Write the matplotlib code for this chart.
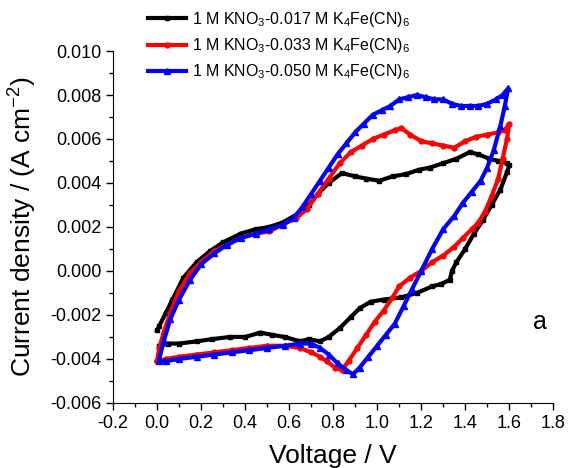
import numpy as np
import matplotlib
matplotlib.use("Agg")
import matplotlib.pyplot as plt

plt.rcParams['font.family'] = ['Liberation Sans', 'DejaVu Sans']
plt.rcParams['mathtext.fontset'] = 'custom'
plt.rcParams['mathtext.rm'] = 'Liberation Sans'
plt.rcParams['mathtext.it'] = 'Liberation Sans:italic'
plt.rcParams['mathtext.default'] = 'regular'

# 1 M KNO3 - 0.017 M K4Fe(CN)6 (black): forward scan then reverse scan
v_017 = [0.00, 0.01, 0.04, 0.07, 0.12, 0.18, 0.24, 0.30, 0.38, 0.45, 0.51, 0.57, 0.64, 0.69,
         0.73, 0.78, 0.84, 0.90, 0.95, 1.01, 1.07, 1.13, 1.19, 1.24, 1.30, 1.36, 1.42, 1.46,
         1.51, 1.55, 1.59,
         1.60, 1.59, 1.56, 1.52, 1.48, 1.44, 1.40, 1.36, 1.34, 1.33, 1.29, 1.25, 1.18, 1.11,
         1.03, 0.97, 0.92, 0.88, 0.83, 0.78, 0.74, 0.69, 0.65, 0.58, 0.52, 0.47, 0.40, 0.33,
         0.25, 0.18, 0.10, 0.05, 0.01]
j_017 = [-0.0027, -0.0025, -0.0019, -0.0013, -0.0003, 0.0004, 0.0009, 0.0013, 0.0017, 0.0019,
         0.0020, 0.0022, 0.0026, 0.0030, 0.0035, 0.0040, 0.00445, 0.0043, 0.0042, 0.0041,
         0.0043, 0.0044, 0.0046, 0.0047, 0.0049, 0.0051, 0.0054, 0.0053, 0.0051, 0.0050, 0.0049,
         0.0048, 0.0045, 0.0037, 0.0030, 0.0023, 0.0017, 0.0010, 0.0004, 0.0000, -0.0004,
         -0.0006, -0.0007, -0.0010, -0.0012, -0.0013, -0.0014, -0.0017, -0.0021, -0.0026,
         -0.0030, -0.0032, -0.0031, -0.0032, -0.0030, -0.0029, -0.0028, -0.0030, -0.0030,
         -0.0031, -0.0032, -0.0033, -0.0033, -0.0034]

# 1 M KNO3 - 0.033 M K4Fe(CN)6 (red)
v_033 = [0.00, 0.01, 0.03, 0.06, 0.10, 0.15, 0.20, 0.26, 0.32, 0.38, 0.45, 0.51, 0.57, 0.63,
         0.68, 0.73, 0.78, 0.83, 0.88, 0.93, 0.98, 1.03, 1.08, 1.11, 1.15, 1.20, 1.25, 1.30,
         1.35, 1.40, 1.45, 1.50, 1.55, 1.58, 1.60,
         1.59, 1.57, 1.55, 1.52, 1.49, 1.46, 1.43, 1.39, 1.35, 1.30, 1.25, 1.20, 1.15, 1.10,
         1.07, 1.03, 0.99, 0.95, 0.91, 0.87, 0.84, 0.81, 0.77, 0.74, 0.70, 0.65, 0.58, 0.50,
         0.42, 0.34, 0.26, 0.18, 0.10, 0.04, 0.00]
j_033 = [-0.0041, -0.0035, -0.0028, -0.0019, -0.0009, -0.0001, 0.0004, 0.0009, 0.0012, 0.0015,
         0.0017, 0.0018, 0.0021, 0.0024, 0.0028, 0.0035, 0.0042, 0.0049, 0.0054, 0.0057,
         0.0060, 0.0062, 0.0064, 0.0065, 0.0062, 0.0059, 0.0058, 0.0057, 0.0056, 0.0059,
         0.0061, 0.0062, 0.0063, 0.0064, 0.0067,
         0.0060, 0.0051, 0.0042, 0.0034, 0.0027, 0.0022, 0.0019, 0.0015, 0.0011, 0.0007,
         0.0004, 0.0000, -0.0003, -0.0007, -0.0012, -0.0018, -0.0023, -0.0029, -0.0035,
         -0.0041, -0.0045, -0.0044, -0.0041, -0.0039, -0.0037, -0.0035, -0.0034, -0.0034,
         -0.0035, -0.0036, -0.0037, -0.0038, -0.0039, -0.0040, -0.0041]

# 1 M KNO3 - 0.050 M K4Fe(CN)6 (blue)
v_050 = [0.01, 0.03, 0.06, 0.10, 0.15, 0.20, 0.26, 0.32, 0.38, 0.45, 0.51, 0.57, 0.62, 0.66,
         0.70, 0.74, 0.78, 0.82, 0.86, 0.90, 0.94, 0.98, 1.02, 1.06, 1.10, 1.14, 1.18, 1.22,
         1.26, 1.30, 1.34, 1.38, 1.42, 1.46, 1.50, 1.54, 1.57, 1.595,
         1.58, 1.56, 1.53, 1.50, 1.47, 1.43, 1.39, 1.35, 1.30, 1.25, 1.20, 1.16, 1.12, 1.08,
         1.04, 1.00, 0.96, 0.92, 0.89, 0.86, 0.82, 0.78, 0.74, 0.70, 0.65, 0.58, 0.50, 0.42,
         0.34, 0.26, 0.18, 0.10, 0.04, 0.01]
j_050 = [-0.0040, -0.0032, -0.0022, -0.0013, -0.0004, 0.0003, 0.0008, 0.0012, 0.0015, 0.0017,
         0.0019, 0.0021, 0.0024, 0.0029, 0.0035, 0.0041, 0.0047, 0.0053, 0.0058, 0.0063,
         0.0067, 0.0071, 0.0073, 0.0075, 0.0078, 0.0079, 0.0080, 0.0079, 0.0078, 0.0078,
         0.0076, 0.0075, 0.0075, 0.0075, 0.0076, 0.0078, 0.0080, 0.0083,
         0.0075, 0.0066, 0.0055, 0.0047, 0.0041, 0.0036, 0.0031, 0.0025, 0.0019, 0.0010,
         0.0000, -0.0008, -0.0016, -0.0024, -0.0029, -0.0034, -0.0039, -0.0044, -0.0047,
         -0.0045, -0.0042, -0.0038, -0.0035, -0.0033, -0.0033, -0.0034, -0.0035, -0.0036,
         -0.0037, -0.0038, -0.0039, -0.0040, -0.0041, -0.0041]

labels = ['1 M KNO$_3$-0.017 M K$_4$Fe(CN)$_6$',
          '1 M KNO$_3$-0.033 M K$_4$Fe(CN)$_6$',
          '1 M KNO$_3$-0.050 M K$_4$Fe(CN)$_6$']

fig = plt.figure(figsize=(5.68, 4.68), dpi=100)
ax = fig.add_axes([0.199, 0.139, 0.775, 0.752])

ax.plot(v_017, j_017, color='black', marker='s', ms=3.5, lw=3, label=labels[0])
ax.plot(v_033, j_033, color='red', marker='o', ms=3.5, lw=3, label=labels[1])
ax.plot(v_050, j_050, color='blue', marker='^', ms=4, lw=3, label=labels[2])

ax.set_xlim(-0.2, 1.8)
ax.set_ylim(-0.006, 0.010)
ax.set_xticks(np.arange(-0.2, 1.81, 0.2))
ax.set_xticks(np.arange(-0.1, 1.8, 0.2), minor=True)
ax.set_yticks(np.arange(-0.006, 0.0101, 0.002))
ax.set_yticks(np.arange(-0.005, 0.010, 0.002), minor=True)
ax.xaxis.set_major_formatter(plt.FuncFormatter(lambda v, p: '%.1f' % v))
ax.yaxis.set_major_formatter(plt.FuncFormatter(lambda v, p: '%.3f' % (v + 0.0)))
ax.spines['top'].set_visible(False)
ax.spines['right'].set_visible(False)
ax.tick_params(which='major', direction='out', length=5, width=1, labelsize=13)
ax.tick_params(which='minor', direction='out', length=3, width=1)

ax.set_xlabel('Voltage / V', fontsize=19, labelpad=9)
ax.set_ylabel('Current density / (A cm$^{-2}$)', fontsize=19, labelpad=8)

ax.text(1.74, -0.0023, 'a', fontsize=18, ha='center', va='center')

fig.legend(loc='upper left', bbox_to_anchor=(148 / 568, 1 - 10 / 468), frameon=False,
           fontsize=11.5, numpoints=1, handlelength=2.4, handletextpad=0.35,
           labelspacing=0.45, borderpad=0, borderaxespad=0)

fig.savefig('out.png', dpi=100)
